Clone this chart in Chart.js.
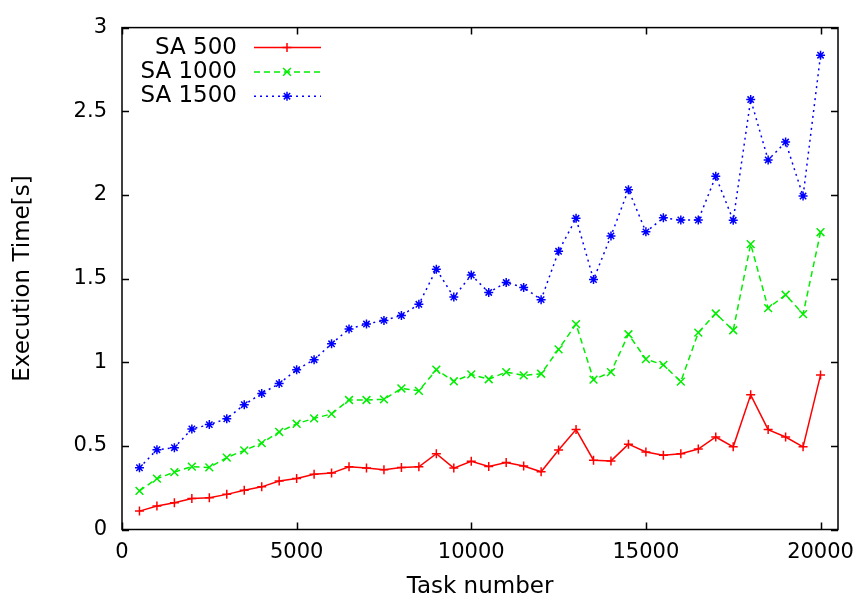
<!DOCTYPE html>
<html>
<head>
<meta charset="utf-8">
<script src="https://cdn.jsdelivr.net/npm/chart.js@4.4.1/dist/chart.umd.min.js"></script>
<style>
  html, body { margin: 0; padding: 0; background: #fff; }
  canvas { display: block; }
</style>
</head>
<body>
<canvas id="chart" width="865" height="601"></canvas>
<script>
const taskNumbers = [500, 1000, 1500, 2000, 2500, 3000, 3500, 4000, 4500, 5000,
  5500, 6000, 6500, 7000, 7500, 8000, 8500, 9000, 9500, 10000,
  10500, 11000, 11500, 12000, 12500, 13000, 13500, 14000, 14500, 15000,
  15500, 16000, 16500, 17000, 17500, 18000, 18500, 19000, 19500, 20000];

const sa500 = [0.110, 0.140, 0.160, 0.185, 0.190, 0.210, 0.235, 0.255, 0.290, 0.305,
  0.330, 0.337, 0.375, 0.367, 0.357, 0.371, 0.375, 0.453, 0.367, 0.408,
  0.377, 0.400, 0.379, 0.345, 0.475, 0.597, 0.414, 0.410, 0.510, 0.463,
  0.444, 0.453, 0.481, 0.553, 0.494, 0.805, 0.597, 0.553, 0.494, 0.923];

const sa1000 = [0.231, 0.304, 0.343, 0.376, 0.371, 0.430, 0.473, 0.516, 0.583, 0.632,
  0.664, 0.691, 0.774, 0.774, 0.778, 0.843, 0.829, 0.955, 0.886, 0.927,
  0.898, 0.941, 0.921, 0.931, 1.077, 1.228, 0.896, 0.941, 1.167, 1.018,
  0.984, 0.884, 1.177, 1.291, 1.191, 1.706, 1.323, 1.403, 1.287, 1.777];

const sa1500 = [0.369, 0.477, 0.489, 0.601, 0.627, 0.662, 0.746, 0.813, 0.872, 0.955,
  1.015, 1.110, 1.199, 1.228, 1.250, 1.279, 1.346, 1.556, 1.389, 1.521,
  1.417, 1.476, 1.447, 1.374, 1.663, 1.860, 1.494, 1.755, 2.031, 1.779,
  1.863, 1.850, 1.850, 2.111, 1.848, 2.570, 2.209, 2.316, 1.993, 2.835];

const seriesLabels = ['SA 500', 'SA 1000', 'SA 1500'];
const xTicks = [0, 5000, 10000, 15000, 20000];
const yTicks = [0, 0.5, 1, 1.5, 2, 2.5, 3];

const FONT = '"DejaVu Sans", Verdana, sans-serif';

function points(values) {
  return taskNumbers.map((x, i) => ({ x: x, y: values[i] }));
}

// gnuplot style border: full box, ticks pointing inwards on every side
const framePlugin = {
  id: 'frame',
  afterDatasetsDraw(chart) {
    const { ctx, chartArea: a, scales } = chart;
    const tl = 7;
    ctx.save();
    ctx.strokeStyle = '#000';
    ctx.lineWidth = 1.5;
    ctx.beginPath();
    scales.x.ticks.forEach(t => {
      const px = Math.round(scales.x.getPixelForValue(t.value)) + 0.5;
      ctx.moveTo(px, a.bottom); ctx.lineTo(px, a.bottom - tl);
      ctx.moveTo(px, a.top); ctx.lineTo(px, a.top + tl);
    });
    scales.y.ticks.forEach(t => {
      const py = Math.round(scales.y.getPixelForValue(t.value)) + 0.5;
      ctx.moveTo(a.left, py); ctx.lineTo(a.left + tl, py);
      ctx.moveTo(a.right, py); ctx.lineTo(a.right - tl, py);
    });
    ctx.stroke();
    ctx.strokeRect(a.left, a.top, a.right - a.left, a.bottom - a.top);
    ctx.restore();
  }
};

// key in the top left corner: label right aligned, then a line sample with its marker
const keyPlugin = {
  id: 'key',
  afterDraw(chart) {
    const { ctx, chartArea: a } = chart;
    chart.data.datasets.forEach((ds, i) => {
      const y = a.top + 20 + i * 24.3;
      ctx.save();
      ctx.font = '23px ' + FONT;
      ctx.fillStyle = '#000';
      ctx.textAlign = 'right';
      ctx.textBaseline = 'middle';
      ctx.fillText(ds.label, a.left + 115, y);

      ctx.strokeStyle = ds.borderColor;
      ctx.lineWidth = ds.borderWidth;
      ctx.setLineDash(ds.borderDash || []);
      ctx.beginPath();
      ctx.moveTo(a.left + 132, y);
      ctx.lineTo(a.left + 199, y);
      ctx.stroke();
      ctx.setLineDash([]);
      ctx.fillStyle = ds.borderColor;
      Chart.helpers.drawPoint(ctx, {
        pointStyle: ds.pointStyle,
        radius: ds.pointRadius,
        borderWidth: ds.pointBorderWidth,
        rotation: 0
      }, a.left + 165, y);
      ctx.restore();
    });
  }
};

new Chart(document.getElementById('chart'), {
  type: 'line',
  data: {
    datasets: [
      {
        label: seriesLabels[0],
        data: points(sa500),
        borderColor: '#ff0000',
        backgroundColor: '#ff0000',
        borderWidth: 1.5,
        pointStyle: 'cross',
        pointRadius: 4.5,
        pointBorderWidth: 1.5,
        borderDash: []
      },
      {
        label: seriesLabels[1],
        data: points(sa1000),
        borderColor: '#00ee00',
        backgroundColor: '#00ee00',
        borderWidth: 1.5,
        pointStyle: 'crossRot',
        pointRadius: 5.5,
        pointBorderWidth: 1.5,
        borderDash: [6, 4]
      },
      {
        label: seriesLabels[2],
        data: points(sa1500),
        borderColor: '#0000ff',
        backgroundColor: '#0000ff',
        borderWidth: 1.5,
        pointStyle: 'star',
        pointRadius: 4.5,
        pointBorderWidth: 1.5,
        borderDash: [2, 4]
      }
    ]
  },
  options: {
    responsive: false,
    animation: false,
    devicePixelRatio: 1,
    layout: { padding: { top: 21, right: 27, bottom: 0, left: 0 } },
    plugins: {
      legend: { display: false },
      tooltip: { enabled: false }
    },
    scales: {
      x: {
        type: 'linear',
        min: 0,
        max: 20500,
        grid: { display: false, drawTicks: false },
        border: { display: false },
        afterBuildTicks: s => { s.ticks = xTicks.map(v => ({ value: v })); },
        afterFit: s => { s.height = 71.5; },
        ticks: {
          padding: 10,
          color: '#000',
          maxRotation: 0,
          font: { family: FONT, size: 21 },
          callback: v => String(v)
        },
        title: {
          display: true,
          text: 'Task number',
          color: '#000',
          font: { family: FONT, size: 23 },
          padding: { top: 0, bottom: 0 }
        }
      },
      y: {
        type: 'linear',
        min: 0,
        max: 3,
        grid: { display: false, drawTicks: false },
        border: { display: false },
        afterBuildTicks: s => { s.ticks = yTicks.map(v => ({ value: v })); },
        afterFit: s => { s.width = 122; },
        ticks: {
          padding: 15,
          color: '#000',
          font: { family: FONT, size: 21 },
          callback: v => String(v)
        },
        title: {
          display: true,
          text: 'Execution Time[s]',
          color: '#000',
          font: { family: FONT, size: 23 },
          padding: { top: 9, bottom: 0 }
        }
      }
    }
  },
  plugins: [framePlugin, keyPlugin]
});
</script>
</body>
</html>
